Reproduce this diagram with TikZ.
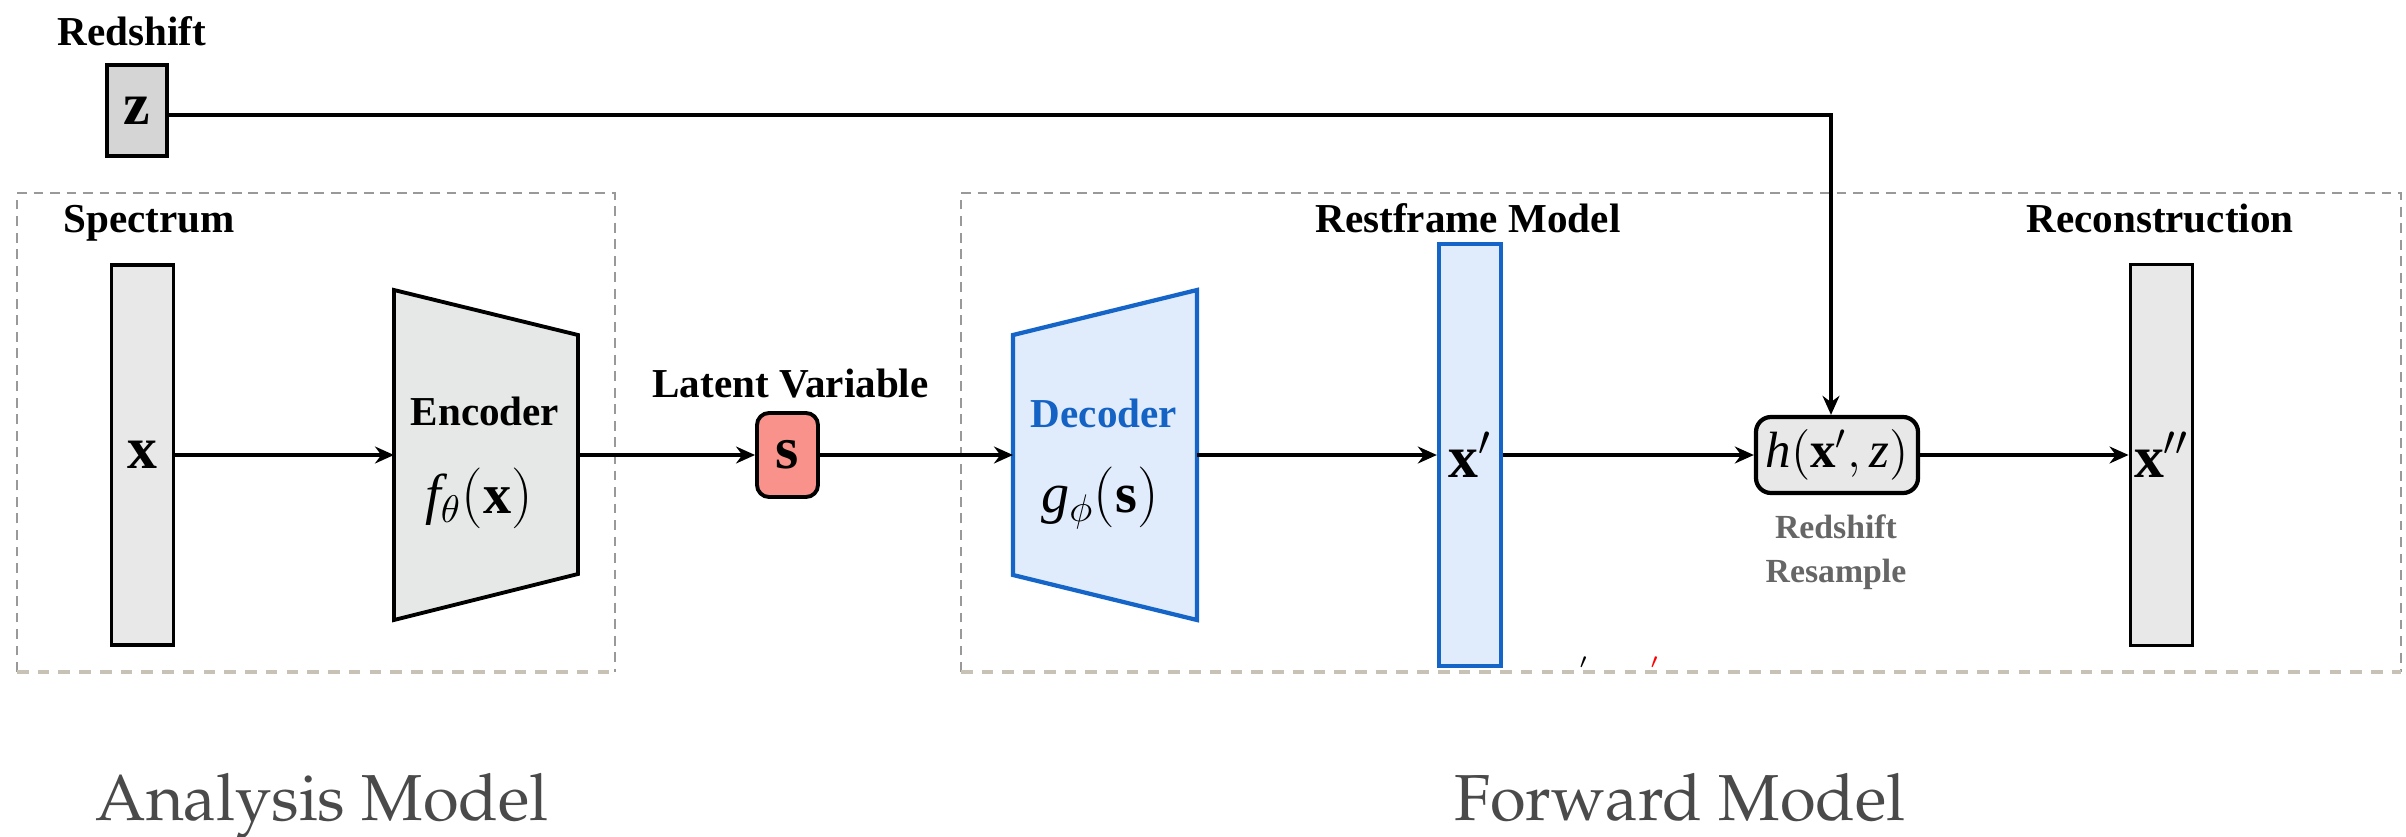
\documentclass[tikz,border=0pt]{standalone}
\usepackage{fontspec}
\setmainfont{Liberation Serif}
\usetikzlibrary{arrows.meta, positioning, calc}

\definecolor{bargray}{HTML}{E8E8E8}
\definecolor{zgray}{HTML}{D5D5D5}
\definecolor{encgray}{HTML}{E6E8E7}
\definecolor{latred}{HTML}{F9928B}
\definecolor{decblue}{HTML}{1565C8}
\definecolor{decfill}{HTML}{E0ECFC}
\definecolor{dectext}{HTML}{1462C4}
\definecolor{framegray}{HTML}{999999}
\definecolor{framebeige}{HTML}{C8C2B6}
\definecolor{resgray}{HTML}{666666}
\definecolor{capgray}{HTML}{4A4A4A}

\begin{document}
\begin{tikzpicture}[
    >={Stealth[length=5.4pt, width=4.8pt]},
    head/.style={font=\fontsize{11.7}{14}\selectfont\bfseries, inner sep=0pt, anchor=base},
    vec/.style={draw, line width=1.1pt, fill=bargray, inner sep=0pt, minimum width=0.62cm},
    vecblue/.style={vec, draw=decblue, fill=decfill, line width=1.2pt},
    sym/.style={font=\fontsize{17}{20}\selectfont},
    func/.style={font=\fontsize{16}{19}\selectfont, inner sep=0pt},
    flow/.style={->, line width=1.1pt},
    boxframe/.style={draw=framegray, line width=0.75pt, dash pattern=on 2.8pt off 1.9pt},
    boxbase/.style={draw=framebeige, line width=1.3pt, dash pattern=on 3.3pt off 2.6pt},
    modelname/.style={font=\fontencoding{OT1}\fontfamily{ppl}\fontsize{18.5}{22}\selectfont, text=capgray, inner sep=0pt, anchor=base},
]
\useasboundingbox (0,0) rectangle (24.06,8.36);

% === REDSHIFT INPUT ===
\node[head] (zlabel) at (1.32,7.91) {Redshift};
\node[vec, fill=zgray, minimum width=0.60cm, minimum height=0.91cm, sym] (zbox) at (1.37,7.255) {$\mathbf{z}$};

% === ANALYSIS MODEL ===
\draw[boxframe] (0.17,1.64) |- (6.15,6.43) -- (6.15,1.64);
\draw[boxbase] (0.17,1.64) -- (6.15,1.64);
\node[head, anchor=base west] (speclabel) at (0.63,6.04) {Spectrum};
\node[vec, minimum height=3.80cm, sym] (xin) at (1.425,3.81) {$\mathbf{x}$};

% encoder trapezoid
\coordinate (enc_in) at (3.94,3.81);
\coordinate (enc_out) at (5.78,3.81);
\draw[line width=1.1pt, fill=encgray] ($(enc_in)+(0,1.65)$) -- ($(enc_out)+(0,1.20)$)
    -- ($(enc_out)+(0,-1.19)$) -- ($(enc_in)+(0,-1.65)$) -- cycle;
\node[head] (enc) at (4.85,4.11) {Encoder};
\node[func] (encf) at (4.79,3.38) {$\mathit{f}_{\theta}(\mathbf{x})$};

\draw[flow] (xin) -- (enc_in);

% latent variable
\node[head] (latlabel) at (7.905,4.39) {Latent Variable};
\node[draw, line width=1.1pt, rounded corners=0.12cm, fill=latred, minimum width=0.61cm, minimum height=0.84cm, inner sep=0pt, sym] (s) at (7.875,3.81) {$\mathbf{s}$};

\draw[flow] (enc_out) -- (s);

% === FORWARD MODEL ===
\draw[boxframe] (9.61,1.64) |- (24.01,6.43) -- (24.01,1.64);
\draw[boxbase] (9.61,1.64) -- (24.01,1.64);

% decoder trapezoid
\coordinate (dec_in) at (10.13,3.81);
\coordinate (dec_out) at (11.97,3.81);
\draw[line width=1.2pt, draw=decblue, fill=decfill] ($(dec_in)+(0,1.20)$) -- ($(dec_out)+(0,1.65)$)
    -- ($(dec_out)+(0,-1.65)$) -- ($(dec_in)+(0,-1.20)$) -- cycle;
\node[head, text=dectext] (dec) at (11.04,4.09) {Decoder};
\node[func] (decg) at (11.00,3.38) {$\mathit{g}_{\phi}(\mathbf{s})$};

\draw[flow] (s) -- (dec_in);

% restframe spectrum
\node[head] (restlabel) at (14.68,6.04) {Restframe Model};
\node[vecblue, minimum height=4.22cm, sym] (xp) at (14.70,3.81) {$\mathbf{x}'$};

\draw[flow] (dec_out) -- (xp);

% resampling
\node[draw, line width=1.2pt, rounded corners=0.15cm, fill=bargray, minimum width=1.62cm, minimum height=0.76cm, inner sep=0pt, font=\fontsize{14.5}{17}\selectfont] (hbox) at (18.37,3.81) {$\mathit{h}(\mathbf{x}', \mathit{z})$};
\node[font=\fontsize{9.6}{12.5}\selectfont\bfseries, text=resgray, align=center, anchor=north, inner sep=0pt] (hlabel) at (18.36,3.22) {Redshift\\Resample};

\draw[flow] (xp) -- (hbox);

% reconstruction
\node[head] (reclabel) at (21.60,6.04) {Reconstruction};
\node[vec, minimum height=3.81cm, sym] (xpp) at (21.615,3.81) {$\mathbf{x}''$};

\draw[flow] (hbox) -- (xpp);

% redshift into resampling
\draw[flow] ([yshift=-0.045cm]zbox.east) -| ([xshift=-0.06cm]hbox.north);

% stray marks
\node[font=\fontsize{9}{9}\selectfont, inner sep=0pt, anchor=north] (tick1) at (15.84,1.80) {$'$};
\node[font=\fontsize{9}{9}\selectfont, inner sep=0pt, anchor=north, text=red] (tick2) at (16.55,1.80) {$'$};

% === LABELS ===
\node[modelname] (analysis) at (3.22,0.16) {Analysis Model};
\node[modelname] (forward) at (16.80,0.16) {Forward Model};

\end{tikzpicture}
\end{document}
